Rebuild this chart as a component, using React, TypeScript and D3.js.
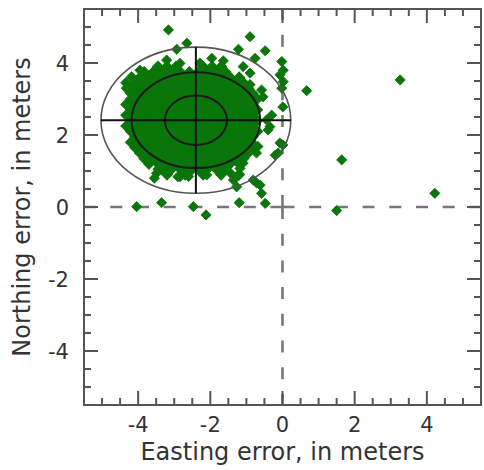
import React from 'react';
import * as d3 from 'd3';

// axis setup
const xDomain = [-5.5, 5.5];
const yDomain = [-5.5, 5.5];
const majorTicks = [-4, -2, 0, 2, 4];
const minorTicks = [-5, -4.5, -3.5, -3, -2.5, -1.5, -1, -0.5, 0.5, 1, 1.5, 2.5, 3, 3.5, 4.5, 5];

// error ellipses around the mean position
const meanPos = [-2.4, 2.41];
const ellipseRadii = [
  { rx: 2.63, ry: 2.03, color: '#555', width: 1.6 },
  { rx: 1.78, ry: 1.33, color: '#1a1a1a', width: 2 },
  { rx: 0.86, ry: 0.69, color: '#1a1a1a', width: 2 },
];

// dense core of fixes, one row of easting values per northing value
const coreRows: [number, number[]][] = [
  [3.9, [-3.45, -3.2, -2.95, -2.2, -1.95, -1.7]],
  [3.75, [-3.83, -3.58, -3.33, -3.08, -2.83, -2.58, -2.33, -2.08, -1.83, -1.58]],
  [3.6, [-3.95, -3.7, -3.45, -3.2, -2.95, -2.7, -2.45, -2.2, -1.95, -1.7, -1.45, -1.2]],
  [3.45, [-4.33, -4.08, -3.83, -3.58, -3.33, -3.08, -2.83, -2.58, -2.33, -2.08, -1.83, -1.58, -1.33, -1.08]],
  [3.3, [-4.2, -3.95, -3.7, -3.45, -3.2, -2.95, -2.7, -2.45, -2.2, -1.95, -1.7, -1.45, -1.2, -0.95]],
  [3.15, [-4.08, -3.83, -3.58, -3.33, -3.08, -2.83, -2.58, -2.33, -2.08, -1.83, -1.58, -1.33, -1.08, -0.83]],
  [3.0, [-4.2, -3.95, -3.7, -3.45, -3.2, -2.95, -2.7, -2.45, -2.2, -1.95, -1.7, -1.45, -1.2, -0.95, -0.7]],
  [2.85, [-4.33, -4.08, -3.83, -3.58, -3.33, -3.08, -2.83, -2.58, -2.33, -2.08, -1.83, -1.58, -1.33, -1.08, -0.83]],
  [2.7, [-4.2, -3.95, -3.7, -3.45, -3.2, -2.95, -2.7, -2.45, -2.2, -1.95, -1.7, -1.45, -1.2, -0.95, -0.7]],
  [2.55, [-4.33, -4.08, -3.83, -3.58, -3.33, -3.08, -2.83, -2.58, -2.33, -2.08, -1.83, -1.58, -1.33, -1.08, -0.83]],
  [2.4, [-4.2, -3.95, -3.7, -3.45, -3.2, -2.95, -2.7, -2.45, -2.2, -1.95, -1.7, -1.45, -1.2, -0.95, -0.7]],
  [2.25, [-4.33, -4.08, -3.83, -3.58, -3.33, -3.08, -2.83, -2.58, -2.33, -2.08, -1.83, -1.58, -1.33, -1.08, -0.83]],
  [2.1, [-4.2, -3.95, -3.7, -3.45, -3.2, -2.95, -2.7, -2.45, -2.2, -1.95, -1.7, -1.45, -1.2, -0.95, -0.7]],
  [1.95, [-4.08, -3.83, -3.58, -3.33, -3.08, -2.83, -2.58, -2.33, -2.08, -1.83, -1.58, -1.33, -1.08, -0.83]],
  [1.8, [-4.2, -3.95, -3.7, -3.45, -3.2, -2.95, -2.7, -2.45, -2.2, -1.95, -1.7, -1.45, -1.2, -0.95]],
  [1.65, [-4.08, -3.83, -3.58, -3.33, -3.08, -2.83, -2.58, -2.33, -2.08, -1.83, -1.58, -1.33, -1.08, -0.83]],
  [1.5, [-3.95, -3.7, -3.45, -3.2, -2.95, -2.7, -2.45, -2.2, -1.95, -1.7, -1.45, -1.2, -0.95]],
  [1.35, [-3.83, -3.58, -3.33, -3.08, -2.83, -2.58, -2.33, -2.08, -1.83, -1.58, -1.33, -1.08]],
  [1.2, [-3.7, -3.45, -3.2, -2.95, -2.7, -2.45, -2.2, -1.95, -1.7, -1.45, -1.2]],
  [1.05, [-3.33, -3.08, -2.83, -2.58, -2.33, -2.08, -1.83, -1.58]],
  [0.9, [-3.2, -2.7, -2.2, -1.7, -1.2]],
];

// scattered fixes outside the core [easting, northing]
const scatterPts: [number, number][] = [
  [-3.16, 4.92], [-0.9, 4.73], [-2.65, 4.55], [-2.93, 4.38], [-1.22, 4.38], [-0.48, 4.34],
  [-0.76, 4.13], [-1.64, 4.06], [-1.96, 4.13], [-3.21, 4.08], [-2.29, 4.0], [-2.84, 3.99],
  [-1.09, 3.9], [-3.95, 3.8], [-4.18, 3.62], [-4.33, 3.3], [-4.23, 3.17],
  [-0.02, 4.04], [0.02, 3.8], [-0.07, 3.67], [0.02, 3.48], [-0.02, 3.3], [0.67, 3.23],
  [3.26, 3.53], [-0.58, 3.25], [-0.9, 3.72], [-0.9, 3.4], [-0.9, 3.06], [-0.54, 3.06],
  [0.01, 2.78], [-0.44, 2.42], [-0.3, 2.55], [-0.4, 2.14], [-0.35, 2.23],
  [0.01, 1.72], [-0.07, 1.78], [-0.12, 1.5], [-0.2, 1.44], [-0.68, 1.68], [-0.82, 1.78], [-0.72, 1.5],
  [1.64, 1.31], [4.22, 0.38], [1.5, -0.1],
  [-1.09, 1.22], [-1.18, 1.07], [-1.27, 0.84], [-1.45, 0.95], [-1.73, 0.94], [-2.1, 0.89],
  [-2.56, 0.98], [-2.6, 0.85], [-2.84, 0.84], [-2.9, 0.84], [-3.49, 0.94], [-3.45, 1.05], [-3.55, 0.8],
  [-4.04, 1.68], [-3.9, 1.5], [-3.73, 1.26],
  [-0.62, 0.61], [-0.72, 0.67], [-0.81, 0.75], [-1.36, 0.75], [-1.27, 0.56], [-0.58, 0.38], [-0.48, 0.1],
  [-4.04, 0.01], [-3.35, 0.12], [-2.47, 0.01], [-2.12, -0.22], [-1.2, 0.12],
];

const W = 484;
const H = 470;
const plot = { left: 84, right: 481, top: 9, bottom: 405 };
const green = '#0a760a';
const axisColor = '#555';
const textColor = '#333';
const font = '"DejaVu Sans", Verdana, sans-serif';

const App = () => {
  const x = d3.scaleLinear().domain(xDomain).range([plot.left, plot.right]);
  const y = d3.scaleLinear().domain(yDomain).range([plot.bottom, plot.top]);

  const diamond = d3.symbol(d3.symbolSquare, 52)() as string;

  const corePts: [number, number][] = [];
  coreRows.forEach(([ny, xs]) => xs.forEach(ex => corePts.push([ex, ny])));

  const majLen = 14;
  const minLen = 7;
  const ticks = [
    ...majorTicks.map(v => ({ v, len: majLen })),
    ...minorTicks.map(v => ({ v, len: minLen })),
  ];

  const x0 = x(0);
  const y0 = y(0);
  const dash = '12 14.7';
  const cx = x(meanPos[0]);
  const cy = y(meanPos[1]);
  const kx = x(1) - x(0);
  const ky = y(0) - y(1);

  return (
    <svg width={W} height={H} style={{ position: 'absolute', left: 0, top: 0, background: '#fff' }}>
      {/* zero reference lines, dashed outward from the origin */}
      <g stroke="#777" strokeWidth={2.6} strokeDasharray={dash} fill="none">
        <line x1={x0} y1={y0} x2={plot.right} y2={y0} />
        <line x1={x0} y1={y0} x2={plot.left} y2={y0} />
        <line x1={x0} y1={y0} x2={x0} y2={plot.top} />
        <line x1={x0} y1={y0} x2={x0} y2={plot.bottom} />
      </g>

      {/* fixes: the dense core gets a thin outline so neighbouring marks merge */}
      <g fill={green} stroke={green} strokeWidth={1.4} strokeLinejoin="miter">
        {corePts.map((d, i) => (
          <path key={'c' + i} d={diamond} transform={`translate(${x(d[0])},${y(d[1])}) rotate(45)`} />
        ))}
      </g>
      <g fill={green} stroke={green} strokeWidth={0.8}>
        {scatterPts.map((d, i) => (
          <path key={'s' + i} d={diamond} transform={`translate(${x(d[0])},${y(d[1])}) rotate(45)`} />
        ))}
      </g>

      {/* error ellipses and crosshair */}
      <g fill="none">
        {ellipseRadii.map((e, i) => (
          <ellipse key={i} cx={cx} cy={cy} rx={e.rx * kx} ry={e.ry * ky} stroke={e.color} strokeWidth={e.width} />
        ))}
        <line x1={cx - ellipseRadii[0].rx * kx} x2={cx + ellipseRadii[0].rx * kx} y1={cy} y2={cy} stroke="#111" strokeWidth={2} />
        <line x1={cx} x2={cx} y1={cy - ellipseRadii[0].ry * ky} y2={cy + ellipseRadii[0].ry * ky} stroke="#111" strokeWidth={2} />
      </g>

      {/* frame and ticks on all four sides */}
      <g stroke={axisColor} strokeWidth={2} fill="none">
        <rect x={plot.left} y={plot.top} width={plot.right - plot.left} height={plot.bottom - plot.top} />
        {ticks.map((t, i) => (
          <g key={i}>
            <line x1={x(t.v)} x2={x(t.v)} y1={plot.bottom} y2={plot.bottom - t.len} />
            <line x1={x(t.v)} x2={x(t.v)} y1={plot.top} y2={plot.top + t.len} />
            <line y1={y(t.v)} y2={y(t.v)} x1={plot.left} x2={plot.left + t.len} />
            <line y1={y(t.v)} y2={y(t.v)} x1={plot.right} x2={plot.right - t.len} />
          </g>
        ))}
      </g>

      <g fill={textColor} fontFamily={font} fontSize={21}>
        {majorTicks.map(v => (
          <text key={'x' + v} x={x(v)} y={432} textAnchor="middle">{v < 0 ? '-' + Math.abs(v) : v}</text>
        ))}
        {majorTicks.map(v => (
          <text key={'y' + v} x={69} y={y(v) + 7.5} textAnchor="end">{v < 0 ? '-' + Math.abs(v) : v}</text>
        ))}
      </g>

      <text x={x(0)} y={460} textAnchor="middle" fill={textColor} fontFamily={font} fontSize={24}>
        Easting error, in meters
      </text>
      <text transform={`translate(30,${(plot.top + plot.bottom) / 2}) rotate(-90)`} textAnchor="middle"
        fill={textColor} fontFamily={font} fontSize={24}>
        Northing error, in meters
      </text>
    </svg>
  );
};

export default App;
